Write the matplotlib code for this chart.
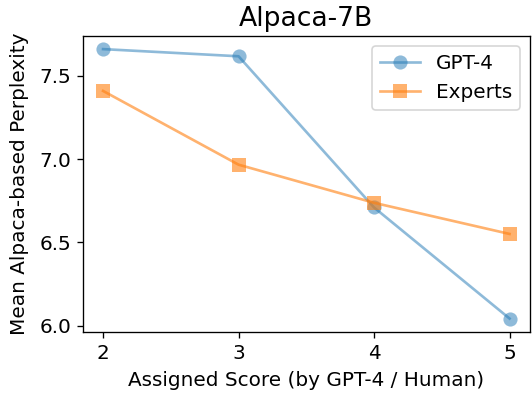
import matplotlib
matplotlib.use("Agg")
import matplotlib.pyplot as plt

scores = [2, 3, 4, 5]
gpt4 = [7.66, 7.617, 6.709, 6.042]
experts = [7.409, 6.966, 6.737, 6.55]

fig, ax = plt.subplots(figsize=(532 / 120, 396 / 120), dpi=120)
ax.plot(scores, gpt4, marker='o', markersize=8.5, markeredgewidth=0, linewidth=1.6, alpha=0.5, label='GPT-4')
ax.plot(scores, experts, marker='s', markersize=8.5, markeredgewidth=0, linewidth=1.6, alpha=0.6, label='Experts')
ax.set_xticks(scores)
ax.set_yticks([6.0, 6.5, 7.0, 7.5])
ax.tick_params(labelsize=12)
ax.set_xlabel('Assigned Score (by GPT-4 / Human)', fontsize=12, labelpad=5)
ax.set_ylabel('Mean Alpaca-based Perplexity', fontsize=12, labelpad=6)
ax.set_title('Alpaca-7B', fontsize=16)
ax.legend(fontsize=12)
fig.subplots_adjust(left=0.1555, right=0.996, bottom=0.1616, top=0.91)
fig.savefig('out.png', dpi=120)
